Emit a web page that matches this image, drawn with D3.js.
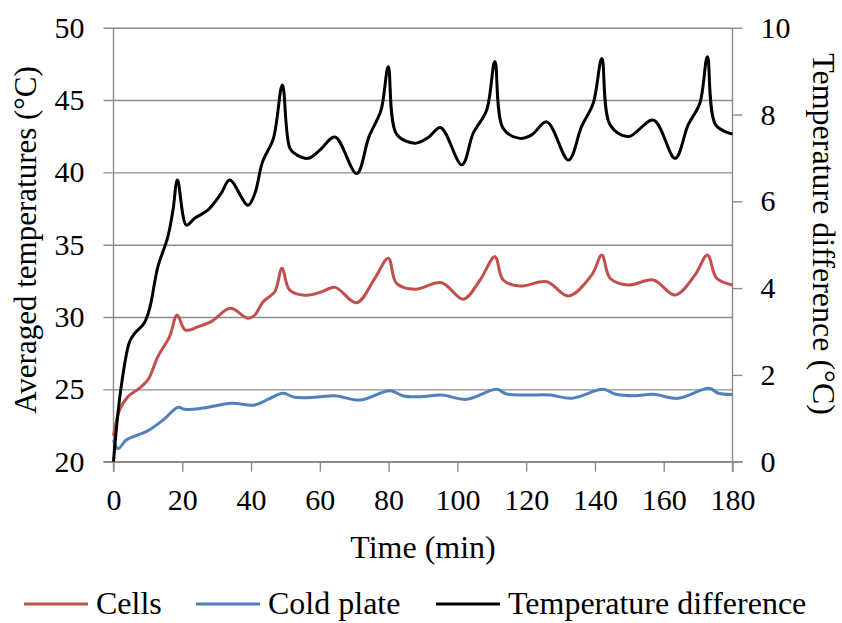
<!DOCTYPE html>
<html>
<head>
    <meta charset="utf-8">
    <title>Temperatures</title>
    <script src="https://d3js.org/d3.v7.min.js"></script>
    <style>
        body { margin: 0; background: #fff; }
        svg { font-family: "Liberation Serif", "Times New Roman", "DejaVu Serif", serif; }
        svg text { fill: #000; }
    </style>
</head>
<body>
    <svg class="chart" width="842" height="623"></svg>

    <script>
// data (time in min)
const cellsTime = [0, 1.8, 4.2, 7.1, 10, 12.9, 16.3, 18.5, 20.9, 24.6, 28.4, 34, 39.1, 41.1, 43.5, 46.9, 49, 51.2, 55.6, 60, 64.4, 70.7, 76, 79.9, 82.3, 87.7, 95.4, 101.7, 106.6, 110.9, 113.3, 118.2, 126, 132.3, 139.1, 142, 144.4, 149.7, 157, 163.3, 169.1, 172.7, 175.4, 180];
const cellsTemp = [21.8, 23.6, 24.5, 25.0, 25.65, 27.26, 28.64, 30.14, 29.1, 29.33, 29.68, 30.6, 29.91, 30.14, 31.06, 31.75, 33.37, 31.87, 31.5, 31.7, 32.05, 30.99, 32.68, 34.06, 32.33, 31.92, 32.37, 31.23, 32.56, 34.17, 32.56, 32.14, 32.44, 31.45, 32.91, 34.29, 32.68, 32.21, 32.56, 31.52, 32.91, 34.29, 32.68, 32.21];

const plateTime = [0, 1.3, 3.7, 7.1, 10, 14.4, 18.8, 20.7, 25.5, 29.4, 34.3, 41.1, 44.9, 49.3, 52.7, 58.5, 64.4, 71.7, 80.4, 84.3, 89.1, 95.4, 102.7, 111.4, 114.3, 120.2, 126.9, 133.2, 142.4, 145.8, 151.6, 157, 164.2, 173.2, 175.9, 180];
const plateTemp = [21.5, 20.9, 21.5, 21.85, 22.14, 22.88, 23.76, 23.62, 23.69, 23.85, 24.04, 23.92, 24.31, 24.73, 24.45, 24.45, 24.56, 24.26, 24.91, 24.54, 24.49, 24.61, 24.31, 25.0, 24.68, 24.61, 24.61, 24.38, 25.0, 24.68, 24.56, 24.66, 24.38, 25.07, 24.73, 24.65];

const diffTime = [0, 2.1, 4.7, 6.2, 8.9, 10.5, 12.9, 15.8, 17.3, 18.6, 21.2, 23.6, 27.5, 31.3, 33.8, 39.1, 41.1, 43.3, 46.5, 49.1, 51.3, 53.3, 56.6, 60, 64.4, 70.7, 74.3, 77.8, 79.9, 82.3, 87.7, 91.5, 95.1, 101.3, 104.6, 108.5, 110.9, 113.3, 118.2, 121.6, 126, 132.3, 136.1, 139.5, 142, 144.4, 149.7, 157, 163.3, 167.1, 170.5, 172.7, 175.1, 180];
const diffValue = [0, 1.65, 2.77, 2.96, 3.19, 3.53, 4.49, 5.18, 5.8, 6.49, 5.45, 5.61, 5.8, 6.18, 6.49, 5.91, 6.18, 6.9, 7.45, 8.68, 7.22, 7.07, 6.99, 7.18, 7.48, 6.64, 7.49, 8.1, 9.1, 7.55, 7.34, 7.47, 7.7, 6.84, 7.57, 8.1, 9.22, 7.68, 7.45, 7.53, 7.83, 6.95, 7.72, 8.26, 9.29, 7.76, 7.49, 7.87, 6.99, 7.76, 8.26, 9.33, 7.76, 7.55];

const timeTicks = [0, 20, 40, 60, 80, 100, 120, 140, 160, 180];
const tempTicks = [20, 25, 30, 35, 40, 45, 50];
const diffTicks = [0, 2, 4, 6, 8, 10];

const seriesNames = ['Cells', 'Cold plate', 'Temperature difference'];
const seriesColors = ['#c0504d', '#4f81bd', '#000000'];

function drawChart() {
    const svg = d3.select('.chart');
    const margin = { top: 27.7, right: 109.5, bottom: 161.3, left: 113.5 };
    const width = +svg.attr('width') - margin.left - margin.right;
    const height = +svg.attr('height') - margin.top - margin.bottom;
    const g = svg.append('g').attr('transform', `translate(${margin.left},${margin.top})`);
    const gridColor = '#8c8c8c';

    const x = d3.scaleLinear().domain([0, 180]).range([0, width]);
    const yLeft = d3.scaleLinear().domain([20, 50]).range([height, 0]);
    const yRight = d3.scaleLinear().domain([0, 10]).range([height, 0]);

    // left axis + gridlines
    const axL = g.append('g').call(d3.axisLeft(yLeft).tickValues(tempTicks).tickSize(10).tickPadding(19));
    axL.selectAll('.tick line').attr('x1', width).attr('x2', -10);
    axL.selectAll('line, path').attr('stroke', gridColor).attr('stroke-width', 1.4);
    axL.select('.domain').attr('d', `M0,0V${height + 10}`);

    // right axis
    const axR = g.append('g').attr('transform', `translate(${width},0)`)
        .call(d3.axisRight(yRight).tickValues(diffTicks).tickSize(10).tickPadding(18).tickFormat(d3.format('d')));
    axR.selectAll('line, path').attr('stroke', gridColor).attr('stroke-width', 1.4);
    axR.select('.domain').attr('d', `M0,0V${height + 10}`);

    // bottom axis
    const axB = g.append('g').attr('transform', `translate(0,${height})`)
        .call(d3.axisBottom(x).tickValues(timeTicks).tickSize(10).tickSizeOuter(0));
    axB.selectAll('line, path').attr('stroke', gridColor).attr('stroke-width', 1.4);
    axB.select('.domain').attr('d', `M-10,0H${width + 10}`);
    axB.selectAll('.tick text').attr('y', 48).attr('dy', 0);

    // d3 axes put font-family="sans-serif" on their groups; drop it
    svg.selectAll('g[font-family]').attr('font-family', null).attr('font-size', 30);
    svg.selectAll('.tick text').attr('fill', '#000');

    // lines
    const lineL = d3.line().x(d => x(d[0])).y(d => yLeft(d[1])).curve(d3.curveCatmullRom.alpha(0.5));
    const lineR = d3.line().x(d => x(d[0])).y(d => yRight(d[1])).curve(d3.curveCatmullRom.alpha(0.5));

    g.append('path').datum(cellsTime.map((t, i) => [t, cellsTemp[i]]))
        .attr('d', lineL).attr('fill', 'none').attr('stroke', seriesColors[0]).attr('stroke-width', 3);
    g.append('path').datum(plateTime.map((t, i) => [t, plateTemp[i]]))
        .attr('d', lineL).attr('fill', 'none').attr('stroke', seriesColors[1]).attr('stroke-width', 3);
    g.append('path').datum(diffTime.map((t, i) => [t, diffValue[i]]))
        .attr('d', lineR).attr('fill', 'none').attr('stroke', seriesColors[2]).attr('stroke-width', 3);

    // axis titles
    svg.append('text').attr('transform', 'translate(36,240) rotate(-90)')
        .attr('text-anchor', 'middle').attr('font-size', 31).text('Averaged temperatures (°C)');
    svg.append('text').attr('transform', 'translate(813,234) rotate(90)')
        .attr('text-anchor', 'middle').attr('font-size', 32).text('Temperature difference (°C)');
    svg.append('text').attr('x', margin.left + width / 2).attr('y', 558)
        .attr('text-anchor', 'middle').attr('font-size', 32).text('Time (min)');

    // legend
    const legendX = [24, 196, 436];
    const leg = svg.append('g');
    seriesNames.forEach((name, i) => {
        leg.append('line').attr('x1', legendX[i]).attr('x2', legendX[i] + 64)
            .attr('y1', 604).attr('y2', 604)
            .attr('stroke', seriesColors[i]).attr('stroke-width', 3);
        leg.append('text').attr('x', legendX[i] + 72).attr('y', 614)
            .attr('font-size', 32).text(name);
    });
}

drawChart();
    </script>
</body>
</html>
